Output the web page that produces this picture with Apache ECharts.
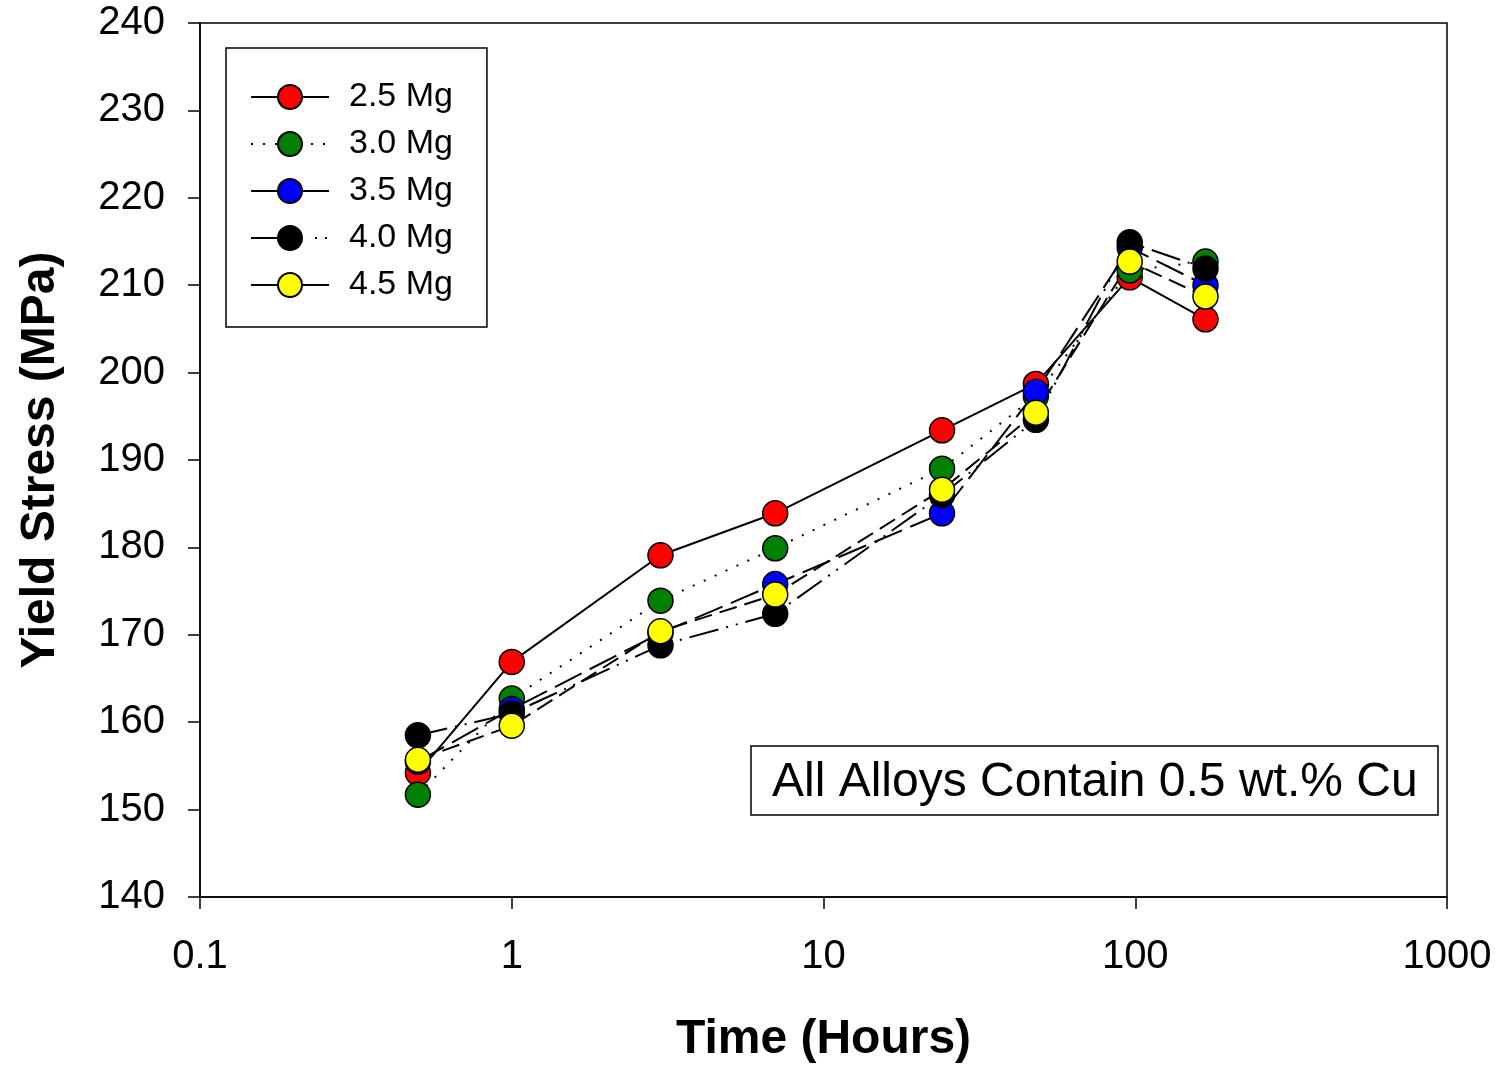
<!DOCTYPE html>
<html>
<head>
<meta charset="utf-8">
<script src="https://cdn.jsdelivr.net/npm/echarts@6/dist/echarts.min.js"></script>
<style>
  html, body { margin: 0; padding: 0; background: #fff; }
  #chart { width: 1500px; height: 1066px; }
</style>
</head>
<body>
<div id="chart"></div>
<script>
// aging time (hours)
const hours = [0.5, 1, 3, 7, 24, 48, 96, 168];

const seriesNames = ["2.5 Mg", "3.0 Mg", "3.5 Mg", "4.0 Mg", "4.5 Mg"];
const mg25 = [154.2, 166.9, 179.1, 183.9, 193.4, 198.7, 210.9, 206.1];
const mg30 = [151.7, 162.7, 173.9, 179.9, 189.0, 197.3, 211.7, 212.7];
const mg35 = [155.5, 161.5, 170.2, 175.8, 183.9, 197.8, 214.3, 210.0];
const mg40 = [158.5, 161.0, 168.8, 172.4, 186.0, 194.6, 214.9, 211.9];
const mg45 = [155.7, 159.6, 170.4, 174.6, 186.6, 195.4, 212.7, 208.7];

const xTicks = [0.1, 1, 10, 100, 1000];
const yTicks = [140, 150, 160, 170, 180, 190, 200, 210, 220, 230, 240];

const colors = ["#ff0000", "#008000", "#0000ff", "#000000", "#ffff00"];
const dashes = ["solid", [2, 10], [30, 9], [30, 8, 2, 8, 2, 8], [18, 8]];
const legendDashes = ["solid", [2, 10], "solid", [40, 24, 2, 8, 2, 20], "solid"];

const font = "'Liberation Sans', Arial, sans-serif";
const allValues = [mg25, mg30, mg35, mg40, mg45];

const myChart = echarts.init(document.getElementById("chart"));

const series = seriesNames.map((name, i) => ({
  name: name,
  type: "line",
  data: hours.map((h, j) => [h, allValues[i][j]]),
  symbol: "circle",
  symbolSize: 25,
  showSymbol: true,
  lineStyle: { color: "#000", width: 2, type: dashes[i] },
  itemStyle: { color: colors[i], borderColor: "#000", borderWidth: 1.5 },
  emphasis: { disabled: true },
  animation: false,
}));

let option = {
  backgroundColor: "#fff",
  animation: false,
  grid: {
    left: 200,
    right: 53,
    top: 23,
    bottom: 169,
    outerBoundsMode: "none",
    show: true,
    borderColor: "#000",
    borderWidth: 1.5,
    backgroundColor: "transparent",
  },
  title: {
    text: "All Alloys Contain 0.5 wt.% Cu",
    left: 751,
    top: 746,
    padding: [12, 21, 8, 21],
    borderColor: "#000",
    borderWidth: 1.5,
    textStyle: {
      fontFamily: font,
      fontSize: 48,
      fontWeight: "normal",
      color: "#000",
      lineHeight: 49,
    },
  },
  legend: {
    orient: "vertical",
    left: 226,
    top: 48,
    padding: [31, 34, 24, 24],
    borderColor: "#000",
    borderWidth: 1.5,
    itemWidth: 78,
    itemHeight: 30,
    itemGap: 11,
    selectedMode: false,
    textStyle: {
      fontFamily: font,
      fontSize: 34,
      color: "#000",
      lineHeight: 36,
      padding: [0, 0, 0, 15],
    },
    data: seriesNames.map((name, i) => ({
      name: name,
      lineStyle: { color: "#000", width: 2, type: legendDashes[i] },
    })),
  },
  xAxis: {
    type: "log",
    logBase: 10,
    min: xTicks[0],
    max: xTicks[xTicks.length - 1],
    name: "Time (Hours)",
    nameLocation: "middle",
    nameGap: 119,
    nameTextStyle: { fontFamily: font, fontSize: 48, fontWeight: "bold", color: "#000" },
    axisLine: { show: true, lineStyle: { color: "#000", width: 1.5 } },
    axisTick: { show: true, inside: false, length: 12, lineStyle: { color: "#000", width: 1.5 } },
    minorTick: { show: false },
    splitLine: { show: false },
    axisLabel: {
      fontFamily: font,
      fontSize: 40,
      color: "#000",
      margin: 40,
      formatter: (v) => String(+v.toPrecision(3)),
    },
  },
  yAxis: {
    type: "value",
    min: yTicks[0],
    max: yTicks[yTicks.length - 1],
    interval: 10,
    name: "Yield Stress (MPa)",
    nameLocation: "middle",
    nameGap: 135,
    nameRotate: 90,
    nameTextStyle: { fontFamily: font, fontSize: 48, fontWeight: "bold", color: "#000" },
    axisLine: { show: true, lineStyle: { color: "#000", width: 1.5 } },
    axisTick: { show: true, inside: false, length: 12, lineStyle: { color: "#000", width: 1.5 } },
    splitLine: { show: false },
    axisLabel: {
      fontFamily: font,
      fontSize: 40,
      color: "#000",
      margin: 35,
    },
  },
  series: series,
};

myChart.setOption(option);
</script>
</body>
</html>
